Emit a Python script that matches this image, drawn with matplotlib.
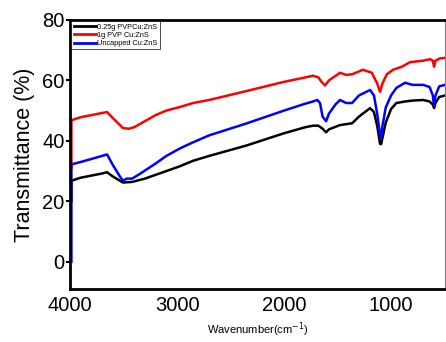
import matplotlib
matplotlib.use("Agg")
import matplotlib.pyplot as plt

plt.rcParams['font.family'] = ['Liberation Sans', 'DejaVu Sans']

# FTIR spectra (wavenumber in cm-1, transmittance in %)
wn_red = [3987, 3987, 3900, 3800, 3700, 3654, 3600, 3505, 3450, 3400, 3300, 3200, 3100,
          2972, 2850, 2700, 2346, 2000, 1729, 1680, 1650, 1617, 1580, 1477, 1420, 1364,
          1262, 1180, 1130, 1103, 1080, 1040, 981, 900, 822, 700, 636, 610, 598, 585, 540, 495]
t_red = [31, 46.8, 47.8, 48.5, 49.2, 49.5, 47.5, 44.2, 44, 44.5, 46.5, 48.5, 50,
         51.2, 52.5, 53.5, 56.5, 59.5, 61.5, 61, 59.5, 58.3, 60, 62.5, 61.8, 62,
         63.5, 62.5, 59, 56.2, 59, 62, 63.5, 64.5, 66, 66.5, 67, 66.5, 64.5, 66.5, 67.3, 67.4]

wn_blue = [3987, 3987, 3900, 3800, 3700, 3654, 3600, 3530, 3505, 3470, 3420, 3350, 3200,
           3100, 2972, 2850, 2700, 2346, 2000, 1800, 1729, 1690, 1664, 1640, 1607, 1580,
           1520, 1477, 1420, 1364, 1300, 1196, 1160, 1130, 1103, 1093, 1080, 1050, 1000,
           950, 869, 800, 700, 640, 610, 598, 585, 550, 495]
t_blue = [0, 32.2, 33, 34, 35, 35.5, 32, 28, 26.8, 27.5, 27.5, 29, 32.5,
          35, 37.5, 39.5, 41.8, 45.8, 50, 52.3, 53, 53.5, 52.5, 48, 46.5, 49,
          52, 53.5, 52.5, 52.5, 55, 56.8, 55, 49, 42, 41, 45, 51, 55,
          57.5, 59.2, 58.5, 58.5, 57.8, 55, 51.5, 55, 58, 58.5]

wn_black = [3987, 3987, 3900, 3800, 3700, 3654, 3600, 3505, 3420, 3300, 3100, 2972, 2850,
            2700, 2346, 2000, 1800, 1729, 1680, 1640, 1607, 1580, 1477, 1420, 1364, 1300,
            1196, 1160, 1130, 1103, 1093, 1080, 1050, 1000, 950, 869, 800, 700, 640, 610,
            598, 585, 550, 495]
t_black = [20, 26.8, 27.8, 28.5, 29.2, 29.6, 28.2, 26.2, 26.4, 27.5, 30, 31.6, 33.4,
           35, 38.5, 42.5, 44.5, 45, 45, 44, 42.8, 43.8, 45.2, 45.5, 45.8, 48,
           50.8, 49.5, 45, 39, 38.9, 41, 46, 50.5, 52.5, 53, 53.3, 53.5, 53, 52,
           50.8, 52.5, 54.5, 55]

labels = ['0.25g PVPCu:ZnS', '1g PVP Cu:ZnS', 'Uncapped Cu:ZnS']

fig = plt.figure(figsize=(4.46, 3.42), dpi=100)
ax = fig.add_axes([0.157, 0.155, 0.841, 0.787])

ax.plot(wn_black, t_black, color='black', lw=1.8, label=labels[0])
ax.plot(wn_red, t_red, color='red', lw=1.8, label=labels[1])
ax.plot(wn_blue, t_blue, color='blue', lw=1.8, label=labels[2])

ax.set_xlim(4000, 495)
ax.set_ylim(-9, 80)
ax.set_xticks([4000, 3000, 2000, 1000])
ax.set_yticks([0, 20, 40, 60, 80])
ax.tick_params(axis='both', labelsize=14.5, direction='out')
ax.tick_params(axis='x', length=0, pad=5)
ax.tick_params(axis='y', length=3, width=1.5, pad=1)

for s in ['left', 'top', 'bottom']:
    ax.spines[s].set_linewidth(2)
ax.spines['right'].set_linewidth(0.8)
ax.spines['right'].set_color('gray')

ax.set_ylabel('Transmittance (%)', fontsize=15.5, labelpad=5)
ax.set_xlabel('Wavenumber(cm$^{-1}$)', fontsize=8, labelpad=4)

leg = ax.legend(loc='upper left', fontsize=5.3, frameon=True, fancybox=False,
                edgecolor='black', handlelength=3, handletextpad=0.2,
                borderpad=0.3, labelspacing=0.15, borderaxespad=0.2)
leg.get_frame().set_linewidth(0.6)
for line in leg.get_lines():
    line.set_linewidth(2)

fig.savefig('out.png', dpi=100)
